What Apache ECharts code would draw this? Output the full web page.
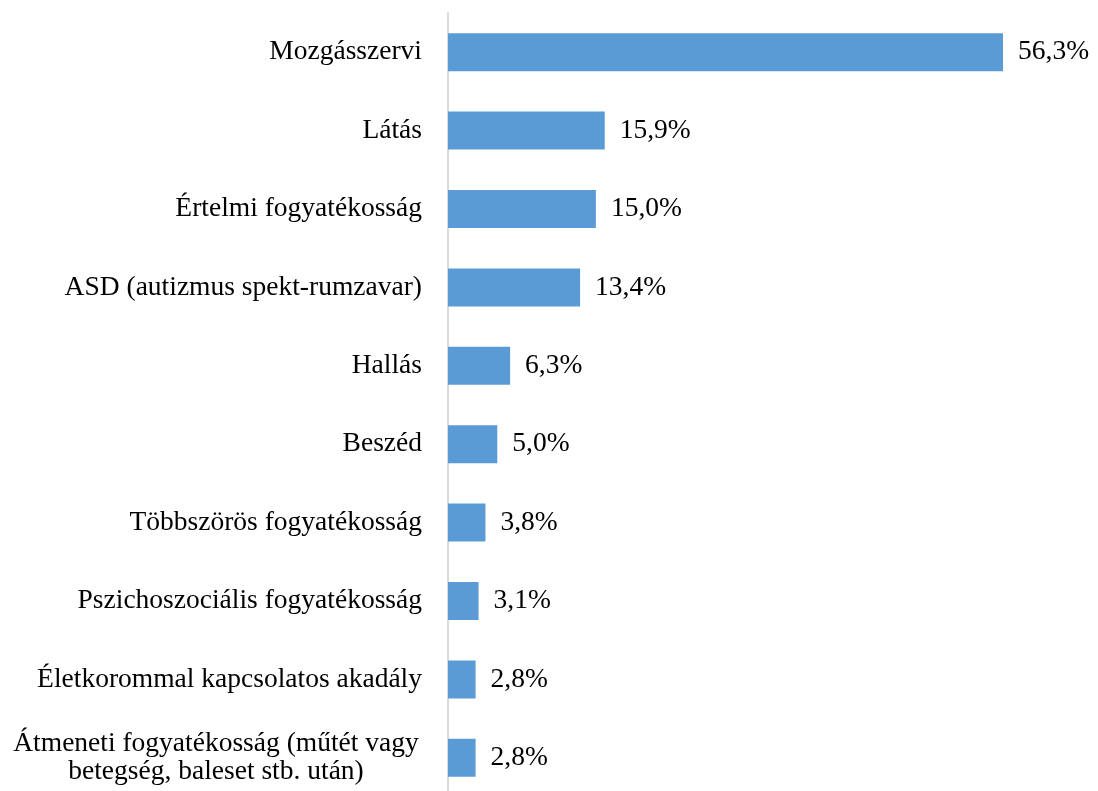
<!DOCTYPE html>
<html>
<head>
<meta charset="utf-8">
<script src="https://cdn.jsdelivr.net/npm/echarts@6/dist/echarts.min.js"></script>
<style>
  html, body { margin: 0; padding: 0; background: #fff; overflow: hidden; }
  #chart { width: 1098px; height: 800px; }
</style>
</head>
<body>
<div id="chart"></div>
<script>
// categories top to bottom
const categories = [
  'Mozgásszervi',
  'Látás',
  'Értelmi fogyatékosság',
  'ASD (autizmus spekt-rumzavar)',
  'Hallás',
  'Beszéd',
  'Többszörös fogyatékosság',
  'Pszichoszociális fogyatékosság',
  'Életkorommal kapcsolatos akadály',
  'Átmeneti fogyatékosság (műtét vagy\nbetegség, baleset stb. után)',
];
const values = [56.3, 15.9, 15.0, 13.4, 6.3, 5.0, 3.8, 3.1, 2.8, 2.8];

const chart = echarts.init(document.getElementById('chart'));

const option = {
  backgroundColor: '#fff',
  animation: false,
  grid: {
    left: 448,
    top: 13,
    width: 591.5,
    height: 784,
    containLabel: false,
  },
  xAxis: {
    type: 'value',
    min: 0,
    max: 60,
    show: false,
  },
  yAxis: {
    type: 'category',
    inverse: true,
    data: categories,
    axisLine: {
      show: true,
      lineStyle: { color: '#d9d9d9', width: 2 },
    },
    axisTick: { show: false },
    axisLabel: {
      margin: 26,
      color: '#000',
      fontFamily: 'Liberation Serif',
      fontSize: 27.5,
      lineHeight: 28,
      formatter: function (v) {
        if (v.indexOf('\n') >= 0) {
          return v.split('\n').map(s => '{m|' + s + '}').join('\n');
        }
        return v;
      },
      rich: {
        m: {
          width: 412,
          align: 'center',
          fontFamily: 'Liberation Serif',
          fontSize: 27.5,
          lineHeight: 28,
          color: '#000',
        },
      },
    },
    splitLine: { show: false },
  },
  series: [
    {
      type: 'bar',
      data: values,
      barWidth: 38,
      itemStyle: { color: '#5b9bd5' },
      label: {
        show: true,
        position: 'right',
        distance: 15,
        color: '#000',
        fontFamily: 'Liberation Serif',
        fontSize: 27.5,
        formatter: function (p) {
          return p.value.toFixed(1).replace('.', ',') + '%';
        },
      },
    },
  ],
};

chart.setOption(option);
</script>
</body>
</html>
